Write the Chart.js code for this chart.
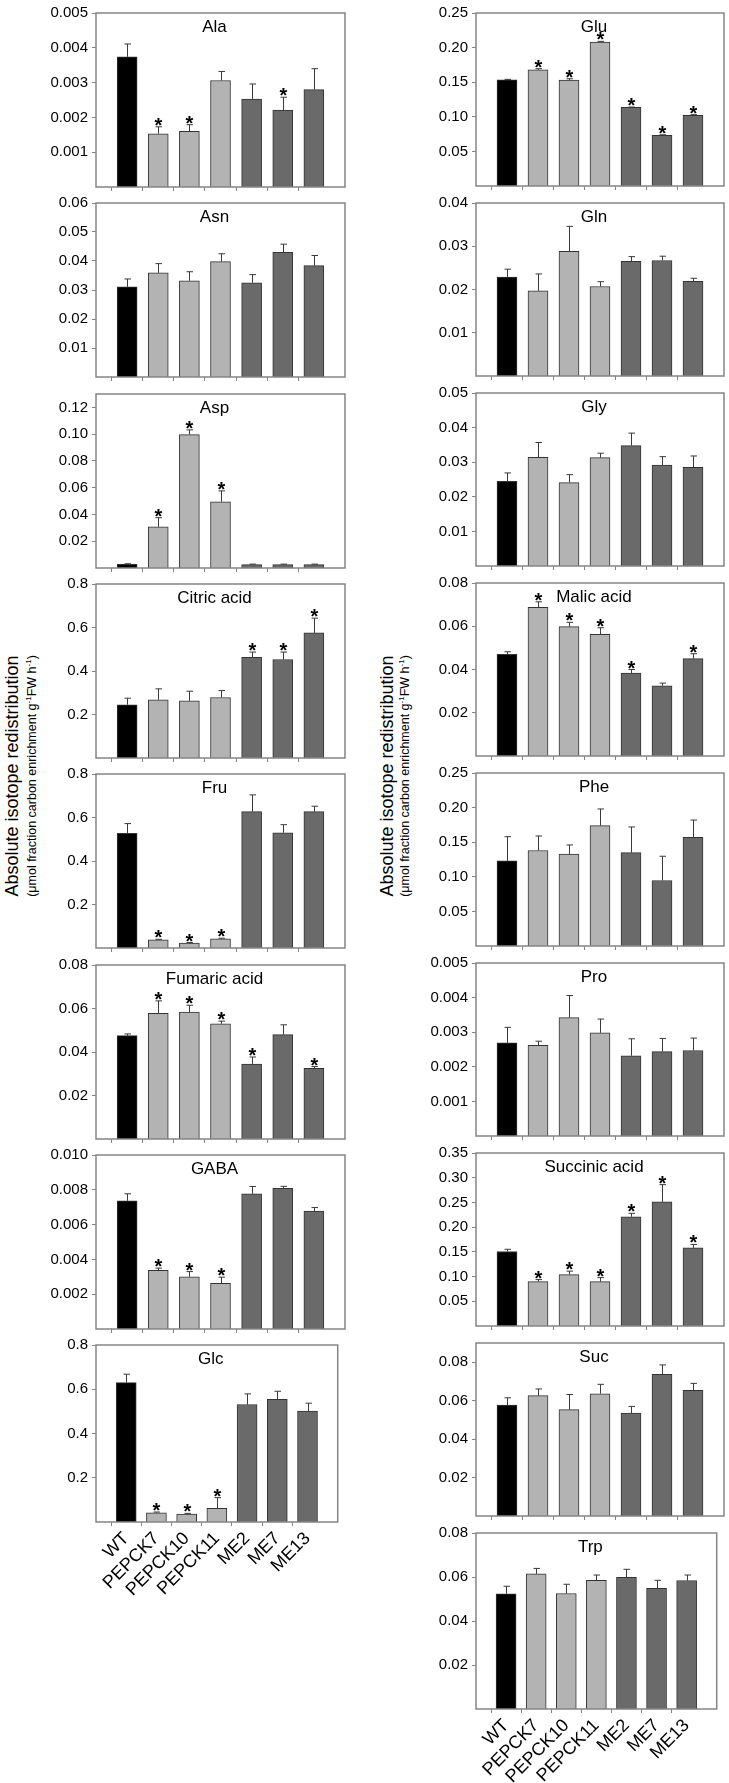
<!DOCTYPE html>
<html>
<head>
<meta charset="utf-8">
<script src="https://cdn.jsdelivr.net/npm/chart.js@4.4.1/dist/chart.umd.min.js"></script>
<style>
    html, body { margin: 0; padding: 0; background: #fff; overflow: hidden; }
    body { position: relative; width: 729px; height: 1783px; font-family: "Liberation Sans", Arial, sans-serif; }
    canvas { position: absolute; }
    .ytitle { position: absolute; white-space: nowrap; color: #000; transform: translate(-50%, -50%) rotate(-90deg); }
    .ytitle sup { font-size: 8px; line-height: 0; }
</style>
</head>
<body>
<div class="ytitle" style="left:12px; top:776px; font-size:18px;">Absolute isotope redistribution</div>
<div class="ytitle" style="left:32px; top:776px; font-size:12.5px;">(μmol fraction carbon enrichment g<sup>-1</sup>FW h<sup>-1</sup>)</div>
<div class="ytitle" style="left:387px; top:776px; font-size:18px;">Absolute isotope redistribution</div>
<div class="ytitle" style="left:405px; top:776px; font-size:12.5px;">(μmol fraction carbon enrichment g<sup>-1</sup>FW h<sup>-1</sup>)</div>
<script>
// nhóm cây (trục x)
const groups = ["WT", "PEPCK7", "PEPCK10", "PEPCK11", "ME2", "ME7", "ME13"];
const barColors = ["#000000", "#b3b3b3", "#b3b3b3", "#b3b3b3", "#6a6a6a", "#6a6a6a", "#6a6a6a"];

// cột trái
const alaMean = [0.00374, 0.00153, 0.0016, 0.00306, 0.00253, 0.00221, 0.0028];
const alaSE = [0.00037, 0.0002, 0.00019, 0.00026, 0.00043, 0.00037, 0.0006];
const alaStar = [1, 2, 5];
const alaTicks = ["0.001", "0.002", "0.003", "0.004", "0.005"];

const asnMean = [0.0311, 0.0359, 0.0332, 0.0398, 0.0325, 0.043, 0.0384];
const asnSE = [0.0027, 0.0032, 0.0031, 0.0027, 0.0028, 0.0028, 0.0035];
const asnStar = [];
const asnTicks = ["0.01", "0.02", "0.03", "0.04", "0.05", "0.06"];

const aspMean = [0.0027, 0.0308, 0.0997, 0.0495, 0.0025, 0.0025, 0.0025];
const aspSE = [0.0005, 0.0068, 0.0035, 0.0081, 0.0004, 0.0004, 0.0004];
const aspStar = [1, 2, 3];
const aspTicks = ["0.02", "0.04", "0.06", "0.08", "0.10", "0.12"];

const citMean = [0.245, 0.268, 0.263, 0.278, 0.463, 0.453, 0.575];
const citSE = [0.03, 0.05, 0.044, 0.032, 0.024, 0.034, 0.068];
const citStar = [4, 5, 6];
const citTicks = ["0.2", "0.4", "0.6", "0.8"];

const fruMean = [0.527, 0.038, 0.023, 0.042, 0.627, 0.53, 0.627];
const fruSE = [0.045, 0.002, 0.002, 0.003, 0.077, 0.037, 0.025];
const fruStar = [1, 2, 3];
const fruTicks = ["0.2", "0.4", "0.6", "0.8"];

const fumMean = [0.0475, 0.0578, 0.0583, 0.053, 0.0345, 0.048, 0.0325];
const fumSE = [0.0008, 0.0057, 0.0032, 0.0012, 0.0032, 0.0045, 0.0008];
const fumStar = [1, 2, 3, 4, 6];
const fumTicks = ["0.02", "0.04", "0.06", "0.08"];

const gabaMean = [0.00737, 0.00337, 0.003, 0.00262, 0.00777, 0.00808, 0.00677];
const gabaSE = [0.0004, 0.00013, 0.0003, 0.00036, 0.00042, 0.00012, 0.00021];
const gabaStar = [1, 2, 3];
const gabaTicks = ["0.002", "0.004", "0.006", "0.008", "0.010"];

const glcMean = [0.63, 0.042, 0.036, 0.062, 0.531, 0.555, 0.501];
const glcSE = [0.038, 0.003, 0.003, 0.048, 0.048, 0.036, 0.036];
const glcStar = [1, 2, 3];
const glcTicks = ["0.2", "0.4", "0.6", "0.8"];

// cột phải
const gluMean = [0.1533, 0.168, 0.153, 0.208, 0.1136, 0.0734, 0.1023];
const gluSE = [0.0008, 0.0015, 0.002, 0.001, 0.0005, 0.0006, 0.0008];
const gluStar = [1, 2, 3, 4, 5, 6];
const gluTicks = ["0.05", "0.10", "0.15", "0.20", "0.25"];

const glnMean = [0.0229, 0.0197, 0.0288, 0.0207, 0.0265, 0.0267, 0.0219];
const glnSE = [0.0018, 0.0039, 0.0058, 0.0011, 0.0011, 0.001, 0.0007];
const glnStar = [];
const glnTicks = ["0.01", "0.02", "0.03", "0.04"];

const glyMean = [0.0245, 0.0314, 0.0241, 0.0313, 0.0348, 0.0292, 0.0285];
const glySE = [0.0024, 0.0043, 0.0023, 0.0013, 0.0036, 0.0024, 0.0033];
const glyStar = [];
const glyTicks = ["0.01", "0.02", "0.03", "0.04", "0.05"];

const malMean = [0.047, 0.0688, 0.0598, 0.0563, 0.0383, 0.0325, 0.045];
const malSE = [0.0012, 0.0025, 0.002, 0.003, 0.0017, 0.0012, 0.0023];
const malStar = [1, 2, 3, 4, 6];
const malTicks = ["0.02", "0.04", "0.06", "0.08"];

const pheMean = [0.123, 0.138, 0.133, 0.174, 0.135, 0.0947, 0.157];
const pheSE = [0.035, 0.021, 0.013, 0.024, 0.037, 0.035, 0.025];
const pheStar = [];
const pheTicks = ["0.05", "0.10", "0.15", "0.20", "0.25"];

const proMean = [0.00269, 0.00262, 0.00342, 0.00298, 0.00232, 0.00244, 0.00247];
const proSE = [0.00045, 0.00012, 0.00064, 0.0004, 0.00049, 0.00038, 0.00036];
const proStar = [];
const proTicks = ["0.001", "0.002", "0.003", "0.004", "0.005"];

const sucaMean = [0.1507, 0.0899, 0.104, 0.0899, 0.221, 0.251, 0.158];
const sucaSE = [0.0045, 0.004, 0.007, 0.008, 0.007, 0.035, 0.007];
const sucaStar = [1, 2, 3, 4, 5, 6];
const sucaTicks = ["0.05", "0.10", "0.15", "0.20", "0.25", "0.30", "0.35"];

const sucMean = [0.0577, 0.0626, 0.0553, 0.0636, 0.0536, 0.0737, 0.0654];
const sucSE = [0.0038, 0.0035, 0.0079, 0.0049, 0.0034, 0.0049, 0.0036];
const sucStar = [];
const sucTicks = ["0.02", "0.04", "0.06", "0.08"];

const trpMean = [0.0524, 0.0614, 0.0525, 0.0585, 0.0599, 0.0549, 0.0584];
const trpSE = [0.0034, 0.0025, 0.0042, 0.0024, 0.0036, 0.0036, 0.0025];
const trpStar = [];
const trpTicks = ["0.02", "0.04", "0.06", "0.08"];

const leftPanels = [
    ["Ala", alaMean, alaSE, alaStar, alaTicks, 0.005],
    ["Asn", asnMean, asnSE, asnStar, asnTicks, 0.06],
    ["Asp", aspMean, aspSE, aspStar, aspTicks, 0.13],
    ["Citric acid", citMean, citSE, citStar, citTicks, 0.8],
    ["Fru", fruMean, fruSE, fruStar, fruTicks, 0.8],
    ["Fumaric acid", fumMean, fumSE, fumStar, fumTicks, 0.08],
    ["GABA", gabaMean, gabaSE, gabaStar, gabaTicks, 0.01],
    ["Glc", glcMean, glcSE, glcStar, glcTicks, 0.8],
];
const rightPanels = [
    ["Glu", gluMean, gluSE, gluStar, gluTicks, 0.25],
    ["Gln", glnMean, glnSE, glnStar, glnTicks, 0.04],
    ["Gly", glyMean, glySE, glyStar, glyTicks, 0.05],
    ["Malic acid", malMean, malSE, malStar, malTicks, 0.08],
    ["Phe", pheMean, pheSE, pheStar, pheTicks, 0.25],
    ["Pro", proMean, proSE, proStar, proTicks, 0.005],
    ["Succinic acid", sucaMean, sucaSE, sucaStar, sucaTicks, 0.35],
    ["Suc", sucMean, sucSE, sucStar, sucTicks, 0.09],
    ["Trp", trpMean, trpSE, trpStar, trpTicks, 0.08],
];

const FONT = "'Liberation Sans', Arial, sans-serif";
const FRAME = "#858585";

Chart.defaults.font.family = FONT;
Chart.defaults.color = "#000";

// vẽ một ô biểu đồ
function drawPanel(panel, col, row, isBottom) {
    const [title, mean, se, star, tickLabels, yMax] = panel;
    const colX = col === 0 ? 0 : 360;
    const boxLeft = col === 0 ? 96 : 476;
    const boxRight = col === 0 ? 345 : 724;
    const boxTop = Math.round(col === 0 ? 12 + 190.3 * row : 12 + 190 * row);
    const boxH = col === 0 ? 178 : 177;
    const padTop = 12;
    const padRight = 10;
    const bottomSpace = isBottom ? 110 : 10;

    const canvas = document.createElement("canvas");
    const w = boxRight - colX + padRight;
    const h = padTop + boxH + bottomSpace;
    canvas.width = w;
    canvas.height = h;
    canvas.style.left = colX + "px";
    canvas.style.top = boxTop - padTop + "px";
    document.body.appendChild(canvas);

    const labels = ["", ...groups, ""];
    const values = [null, ...mean, null];
    const colors = ["rgba(0,0,0,0)", ...barColors, "rgba(0,0,0,0)"];

    // khung, tiêu đề, thanh sai số và dấu *
    const extras = {
        id: "extras" + title,
        afterDatasetsDraw(chart) {
            const ctx = chart.ctx;
            const a = chart.chartArea;
            const y = chart.scales.y;
            const meta = chart.getDatasetMeta(0);
            ctx.save();
            ctx.strokeStyle = "#3a3a3a";
            ctx.lineWidth = 1;
            mean.forEach((v, i) => {
                const bar = meta.data[i + 1];
                const x = Math.round(bar.x) + 0.5;
                const yTop = y.getPixelForValue(v + se[i]);
                ctx.beginPath();
                ctx.moveTo(x, bar.y);
                ctx.lineTo(x, yTop);
                ctx.moveTo(x - 3, yTop);
                ctx.lineTo(x + 3.5, yTop);
                ctx.stroke();
                if (star.includes(i)) {
                    ctx.fillStyle = "#000";
                    ctx.font = "bold 20px " + FONT;
                    ctx.textAlign = "center";
                    ctx.textBaseline = "alphabetic";
                    ctx.fillText("*", x, yTop + 5);
                }
            });
            ctx.strokeStyle = FRAME;
            ctx.lineWidth = 1.5;
            ctx.strokeRect(a.left, a.top, a.right - a.left, a.bottom - a.top);
            ctx.fillStyle = "#000";
            ctx.font = "17px " + FONT;
            ctx.textAlign = "center";
            ctx.textBaseline = "middle";
            ctx.fillText(title, (a.left + a.right) / 2 - 6, a.top + 14);
            ctx.restore();
        },
    };

    new Chart(canvas, {
        type: "bar",
        data: {
            labels: labels,
            datasets: [
                {
                    data: values,
                    backgroundColor: colors,
                    borderColor: "#333",
                    borderWidth: 1,
                    barThickness: 20,
                },
            ],
        },
        options: {
            responsive: false,
            animation: false,
            devicePixelRatio: 1,
            layout: { padding: { top: padTop, right: padRight, left: 0, bottom: 0 } },
            plugins: { legend: { display: false }, tooltip: { enabled: false } },
            scales: {
                x: {
                    type: "category",
                    offset: false,
                    border: { display: false },
                    grid: {
                        drawOnChartArea: false,
                        drawTicks: true,
                        tickLength: 4,
                        color: (c) => (c.index === 0 || c.index === labels.length - 1 ? "rgba(0,0,0,0)" : FRAME),
                    },
                    ticks: {
                        display: isBottom,
                        autoSkip: false,
                        minRotation: 45,
                        maxRotation: 45,
                        padding: 2,
                        font: { size: 18 },
                        color: "#000",
                    },
                    afterFit: (s) => {
                        s.height = bottomSpace;
                    },
                },
                y: {
                    min: 0,
                    max: yMax,
                    border: { display: false },
                    grid: { drawOnChartArea: false, drawTicks: true, tickLength: 4, color: FRAME },
                    afterBuildTicks: (s) => {
                        s.ticks = tickLabels.map((t) => ({ value: parseFloat(t) }));
                    },
                    ticks: {
                        padding: 4,
                        font: { size: 15 },
                        color: "#000",
                        callback: (v, i) => tickLabels[i],
                    },
                    afterFit: (s) => {
                        s.width = boxLeft - colX;
                    },
                },
            },
        },
        plugins: [extras],
    });
}

document.addEventListener("DOMContentLoaded", () => {
    leftPanels.forEach((p, i) => drawPanel(p, 0, i, i === leftPanels.length - 1));
    rightPanels.forEach((p, i) => drawPanel(p, 1, i, i === rightPanels.length - 1));
});
</script>
</body>
</html>
